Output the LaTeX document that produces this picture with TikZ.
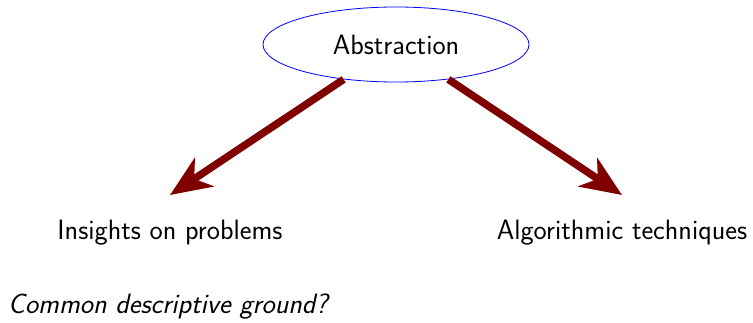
\documentclass[tikz,border=0pt]{standalone}
\usepackage{fontspec}
\usetikzlibrary{arrows.meta,shapes.geometric}
\definecolor{arrred}{RGB}{128,0,0}
\begin{document}
\begin{tikzpicture}[x=1pt,y=-1pt,
  lbl/.style={font=\fontsize{28}{33}\selectfont\sffamily, inner sep=0pt},
  bigarrow/.style={draw=arrred, line width=7.5pt, -{Stealth[length=41pt,width=34pt,inset=12pt]}}]
\useasboundingbox (0,0) rectangle (753,322);
\node[ellipse, draw=blue, line width=0.8pt, minimum width=266pt, minimum height=75pt, inner sep=0pt, lbl] (abs) at (396,44.5) {Abstraction};
\node[lbl] (ins) at (170,233) {Insights on problems};
\node[lbl] (alg) at (622,233) {Algorithmic techniques};
\node[lbl, anchor=west, font=\fontsize{28}{33}\selectfont\sffamily\itshape] (cdg) at (8,307) {Common descriptive ground?};
\coordinate (lt) at (170,195);
\coordinate (rt) at (622,195);
\draw[bigarrow] (abs) -- (lt);
\draw[bigarrow] (abs) -- (rt);
\end{tikzpicture}
\end{document}
